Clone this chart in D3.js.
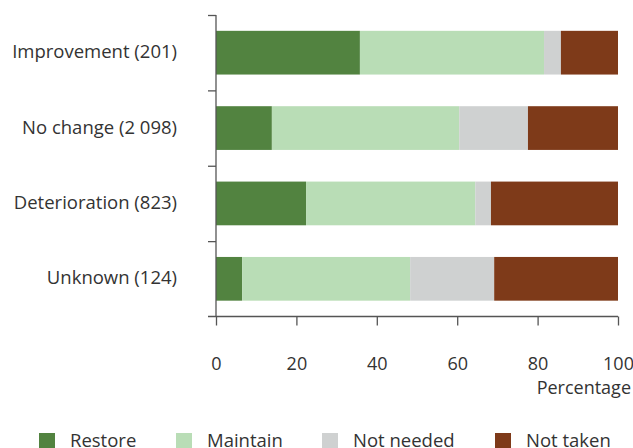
<html>
<head>
<script src="https://cdn.jsdelivr.net/npm/d3@7"></script>
<style>
  body { margin: 0; background: #fff; }
  svg text { font-family: "Open Sans", sans-serif; }
  .axis path, .axis line { stroke: #555; stroke-width: 1.3; }
  .axis text { fill: #333; font-size: 18px; font-family: "Open Sans", sans-serif; }
  .lbl { fill: #333; font-size: 18.5px; }
</style>
</head>
<body>
<div id="container"></div>
<script>
  var categories = ["Improvement (201)", "No change (2 098)", "Deterioration (823)", "Unknown (124)"];
  var seriesNames = ["Restore", "Maintain", "Not needed", "Not taken"];
  var restore   = [35.8, 13.9, 22.4, 6.5];
  var maintain  = [45.8, 46.6, 42.1, 41.8];
  var notNeeded = [4.2, 17.1, 3.9, 20.9];
  var notTaken  = [14.2, 22.4, 31.6, 30.8];
  var xTicks = [0, 20, 40, 60, 80, 100];
  var colors = ["#528340", "#b9ddb6", "#cfd1d1", "#7e3a19"];

  var width = 633, height = 448;
  var mLeft = 216, mRight = 618, mTop = 15, mBottom = 316.5;

  // rows for stacking
  var rows = categories.map(function(c, i){
    return { cat: c, "Restore": restore[i], "Maintain": maintain[i], "Not needed": notNeeded[i], "Not taken": notTaken[i] };
  });
  var stacked = d3.stack().keys(seriesNames)(rows);

  var svg = d3.select("#container").append("svg")
    .attr("width", width).attr("height", height);

  var x = d3.scaleLinear().domain([0, 100]).range([mLeft, mRight]);
  var y = d3.scaleBand().domain(categories).range([mTop, mBottom]).paddingInner(0.42).paddingOuter(0.21);
  var color = d3.scaleOrdinal().domain(seriesNames).range(colors);

  svg.selectAll("g.series").data(stacked).enter().append("g")
      .attr("class", "series")
      .attr("fill", function(d){ return color(d.key); })
    .selectAll("rect").data(function(d){ return d; }).enter().append("rect")
      .attr("x", function(d){ return x(d[0]); })
      .attr("width", function(d){ return x(d[1]) - x(d[0]); })
      .attr("y", function(d){ return y(d.data.cat); })
      .attr("height", y.bandwidth());

  // y axis: ticks at band boundaries
  var bounds = d3.range(categories.length).map(function(i){ return mTop + i * (mBottom - mTop) / categories.length; });
  var yb = d3.scaleLinear().domain([mTop, mBottom]).range([mTop, mBottom]);
  svg.append("g")
      .attr("class", "axis")
      .attr("transform", "translate(" + mLeft + ",0)")
      .call(d3.axisLeft(yb).tickValues(bounds).tickSize(8).tickSizeOuter(0).tickFormat(""))
      .call(function(g){ g.select(".domain").attr("d", "M0," + mTop + "V" + mBottom); });

  svg.selectAll("text.cat").data(categories).enter().append("text")
      .attr("class", "lbl")
      .attr("x", 177)
      .attr("y", function(d){ return y(d) + y.bandwidth() / 2; })
      .attr("dy", "0.3em")
      .attr("text-anchor", "end")
      .text(function(d){ return d; });

  // x axis
  var xg = svg.append("g")
      .attr("class", "axis")
      .attr("transform", "translate(0," + mBottom + ")")
      .call(d3.axisBottom(x).tickValues(xTicks).tickSize(9).tickSizeOuter(0).tickPadding(32));
  xg.select(".domain").attr("d", "M" + (mLeft - 8) + ",0H" + mRight);

  svg.append("text")
      .attr("class", "lbl")
      .style("font-size", "18px")
      .attr("x", 631).attr("y", 394)
      .attr("text-anchor", "end")
      .text("Percentage");

  // legend
  var legX = [39, 176, 322, 495];
  var leg = svg.selectAll("g.leg").data(seriesNames).enter().append("g")
      .attr("class", "leg")
      .attr("transform", function(d, i){ return "translate(" + legX[i] + ",433)"; });
  leg.append("rect").attr("width", 16).attr("height", 16).attr("fill", function(d){ return color(d); });
  leg.append("text").attr("class", "lbl").attr("x", 31).attr("y", 13.5).text(function(d){ return d; });
</script>
</body>
</html>
